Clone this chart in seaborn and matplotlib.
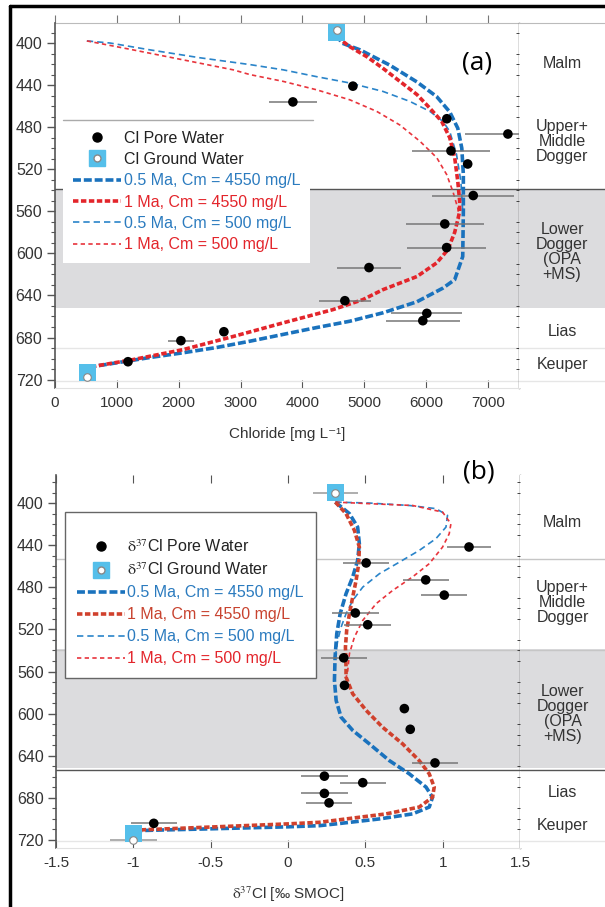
import matplotlib
matplotlib.use("Agg")
import matplotlib.pyplot as plt
from matplotlib.lines import Line2D
from matplotlib.ticker import MultipleLocator
import seaborn as sns

sns.set_style("ticks")
plt.rcParams['font.family'] = ['Liberation Sans', 'DejaVu Sans']
plt.rcParams['mathtext.fontset'] = 'stix'

# ---------------- data: panel (a) chloride ----------------
a_pw_cl = [3845, 4815, 6333, 7320, 6400, 6670, 6760, 6300, 6330, 5075, 4685, 6010, 5945, 2730, 2035, 1180]
a_pw_depth = [456, 441, 472, 486.5, 502.5, 515, 545, 572, 594.5, 613.5, 645, 657, 664, 674.5, 683, 703]
a_pw_err = [390, 0, 0, 700, 630, 0, 660, 630, 640, 515, 420, 575, 600, 0, 210, 0]
a_gw_cl = [4550, 520]
a_gw_depth = [390, 713]
a_gw_circle_depth = [388, 718]

a_blue_thick_cl = [4550, 4635, 4930, 5410, 5850, 6170, 6380, 6510, 6575, 6600, 6600, 6590, 6460, 6270,
                   5850, 5300, 4765, 4230, 3690, 3150, 2610, 2070, 1535, 1000, 515]
a_blue_thick_d = [392, 400, 406.5, 421, 437, 451, 465.5, 481, 500, 525, 560, 603, 625, 633,
                  646, 656.5, 664.5, 670.5, 677, 683.5, 689.5, 694.5, 699, 704, 708.5]
a_red_thick_cl = [4555, 4765, 5040, 5300, 5575, 5850, 6060, 6250, 6380, 6460, 6510, 6540, 6540, 6510,
                  6460, 6350, 6170, 5850, 5300, 4975, 4490, 3690, 2880, 2070, 1260, 515]
a_red_thick_d = [394, 403.5, 413, 424, 436.5, 449, 462, 474.5, 490, 509, 531.5, 550, 560, 568,
                 580, 596.5, 609, 622, 634.5, 644, 653.5, 666, 679, 691.5, 701, 708.5]
a_blue_thin_cl = [515, 890, 1535, 2340, 3150, 3690, 4230, 4765, 5300, 5735, 6060, 6270, 6380, 6490, 6560, 6590]
a_blue_thin_d = [398, 400, 406.5, 414, 420.5, 425.5, 432, 438, 446, 455.5, 465, 474.5, 484, 506, 531.5, 560]
a_red_thin_cl = [515, 1260, 2070, 2880, 3150, 3690, 4230, 4765, 5200, 5575, 5900, 6170, 6330, 6430, 6510, 6540]
a_red_thin_d = [398, 406.5, 416, 425.5, 430, 436.5, 444.5, 454, 465, 478, 493.5, 509, 525, 541, 557, 570]

# ---------------- data: panel (b) delta37Cl ----------------
b_pw_v = [1.17, 0.505, 0.89, 1.01, 0.435, 0.515, 0.36, 0.365, 0.752, 0.79, 0.95, 0.235, 0.483, 0.235, 0.265, -0.868]
b_pw_depth = [441.5, 456.7, 472.8, 487.3, 504.3, 515.5, 547, 573.2, 595.3, 615, 647, 659.6, 665.8, 676, 685, 704.5]
b_pw_err = [0.14, 0.15, 0.15, 0.15, 0.15, 0.15, 0.15, 0, 0, 0, 0.15, 0.15, 0.15, 0.15, 0.15, 0.15]
b_gw_v = [0.306, -1.0]
b_gw_depth = [390, 714]
b_gw_circle_depth = [390, 720]
b_gw_err = [0.145, 0.15]

b_blue_thick_v = [0.306, 0.397, 0.45, 0.461, 0.45, 0.418, 0.375, 0.337, 0.315, 0.304, 0.3, 0.311, 0.343, 0.418,
                  0.526, 0.655, 0.784, 0.892, 0.934, 0.913, 0.805, 0.59, 0.311, 0.203, 0.0, -0.5, -1.0]
b_blue_thick_d = [398.8, 409.8, 422.6, 438.4, 454.3, 470, 486, 505, 524, 546.4, 568.6, 587.6, 603.5, 616,
                  628.9, 644.8, 657.4, 670, 679.7, 689, 695.5, 700.3, 705, 706.7, 707.8, 709.7, 711.5]
b_red_thick_v = [0.306, 0.375, 0.429, 0.461, 0.457, 0.44, 0.418, 0.397, 0.379, 0.371, 0.375, 0.375, 0.418, 0.505,
                 0.611, 0.741, 0.848, 0.913, 0.945, 0.934, 0.848, 0.634, 0.375, 0.203, 0.0, -0.5, -1.0]
b_red_thick_d = [398.8, 409.8, 425.7, 441.6, 457.4, 473.3, 489.2, 505, 521, 536.8, 556, 565.4, 581.2, 597,
                 613, 628.9, 644.8, 657.4, 670, 679.7, 689, 695.5, 700.3, 703.5, 705, 708, 711]
b_blue_thin_v = [0.306, 0.526, 0.784, 0.956, 1.031, 1.021, 0.956, 0.848, 0.72, 0.59, 0.483, 0.418, 0.375, 0.343, 0.321, 0.306]
b_blue_thin_d = [398.8, 399.7, 402, 405, 411.4, 422.6, 433.6, 444.8, 455.9, 467, 479.7, 492.4, 505, 517.8, 530.5, 546]
b_red_thin_v = [0.306, 0.526, 0.805, 0.999, 1.053, 1.042, 0.999, 0.913, 0.805, 0.676, 0.569, 0.483, 0.429, 0.397, 0.386, 0.375]
b_red_thin_d = [398.8, 400.3, 402, 408.3, 419.4, 428.9, 441.6, 457.4, 470, 482.9, 495.5, 511.4, 527.3, 543, 559, 566]

# formations
formations = ["Malm", "Upper+\nMiddle\nDogger", "Lower\nDogger\n(OPA\n+MS)", "Lias", "Keuper"]
a_form_depth = [419, 494, 599, 674.5, 706]
b_form_depth = [418, 494, 600, 675, 706.5]
a_xticks = [0, 1000, 2000, 3000, 4000, 5000, 6000, 7000]
b_xticks = [-1.5, -1, -0.5, 0, 0.5, 1, 1.5]
b_xticklabels = ["-1.5", "-1", "-0.5", "0", "0.5", "1", "1.5"]
yticks = [400, 440, 480, 520, 560, 600, 640, 680, 720]

BLUE = '#1a72bd'
BLUE_T = '#2a84c9'
RED = '#e3252b'
RED_T = '#e8343c'
RED_B = '#d0412d'
SKY = '#55bfea'
BAND = '#dcdcde'

thick_blue_ls = (0, (2.2, 0.8))
thick_red_ls = (0, (1.5, 0.7))
thin_blue_ls = (0, (3.8, 2.4))
thin_red_ls = (0, (2.6, 2.0))

fig = plt.figure(figsize=(6.05, 9.07), dpi=100)
ax_a = fig.add_axes([0.0909, 0.5722, 0.767, 0.4024])
axr_a = fig.add_axes([0.8579, 0.5722, 0.1421, 0.4024], sharey=ax_a)
ax_b = fig.add_axes([0.0926, 0.0650, 0.767, 0.4113])
axr_b = fig.add_axes([0.8595, 0.0650, 0.1405, 0.4113], sharey=ax_b)


def style_axis(ax, ylim):
    ax.set_ylim(*ylim)
    ax.set_yticks(yticks)
    ax.yaxis.set_minor_locator(MultipleLocator(10))
    ax.tick_params(axis='y', which='both', left=True, right=True, labelright=False,
                   direction='out', colors='#555', labelcolor='#333', labelsize=11.5, pad=3)
    ax.tick_params(axis='y', which='major', length=6, width=1)
    ax.tick_params(axis='y', which='minor', length=3, width=0.8)
    ax.tick_params(axis='x', which='major', bottom=True, direction='in', length=6,
                   colors='#555', labelcolor='#333', labelsize=11, pad=6)
    ax.spines['left'].set_color('#555')
    ax.spines['left'].set_linewidth(1.2)
    ax.spines['right'].set_color('#555')
    ax.spines['right'].set_linewidth(1.0)
    ax.spines['bottom'].set_color('#e2e2e2')
    ax.spines['top'].set_visible(False)
    ax.set_ylabel("")
    ax.set_facecolor('white')


def side_panel(axr, depths):
    axr.axhspan(539, 652, color=BAND, lw=0, zorder=0)
    for s in axr.spines.values():
        s.set_visible(False)
    axr.tick_params(left=False, bottom=False, labelleft=False, labelbottom=False)
    for name, d in zip(formations, depths):
        axr.text(0.5, d, name, transform=axr.get_yaxis_transform(), ha='center', va='center',
                 fontsize=11.5, color='#333', linespacing=1.0)


def draw_curve(ax, x, y, color, lw, ls):
    sns.lineplot(x=x, y=y, sort=False, estimator=None, ax=ax, color=color, lw=lw,
                 linestyle=ls, zorder=2, legend=False)


def model_handles(red_thick):
    return [
        Line2D([], [], ls='none', marker='o', color='black', ms=6.5),
        (Line2D([], [], ls='none', marker='s', color=SKY, ms=11),
         Line2D([], [], ls='none', marker='o', mfc='white', mec='#888', ms=5)),
        Line2D([], [], color=BLUE, lw=2.6, linestyle=thick_blue_ls),
        Line2D([], [], color=red_thick, lw=2.6, linestyle=thick_red_ls),
        Line2D([], [], color=BLUE_T, lw=1.2, linestyle=thin_blue_ls),
        Line2D([], [], color=RED_T, lw=1.2, linestyle=thin_red_ls),
    ]


# ================= panel (a) =================
ax = ax_a
ax.axhspan(539, 652, color=BAND, lw=0, zorder=0)
for axx in (ax_a, axr_a):
    axx.axhline(539, color='#555', lw=1, zorder=1)
    axx.axhline(690, color='#e6e6e6', lw=1, zorder=1)
    axx.axhline(721, color='#e6e6e6', lw=1, zorder=1)

draw_curve(ax, a_blue_thin_cl, a_blue_thin_d, BLUE_T, 1.2, thin_blue_ls)
draw_curve(ax, a_red_thin_cl, a_red_thin_d, RED_T, 1.2, thin_red_ls)
draw_curve(ax, a_blue_thick_cl, a_blue_thick_d, BLUE, 2.6, thick_blue_ls)
draw_curve(ax, a_red_thick_cl, a_red_thick_d, RED, 2.6, thick_red_ls)

ax.errorbar(a_pw_cl, a_pw_depth, xerr=a_pw_err, fmt='none', ecolor='#777', elinewidth=1.1, capsize=0, zorder=3)
sns.scatterplot(x=a_pw_cl, y=a_pw_depth, color='black', s=48, edgecolor='none', zorder=4, ax=ax)
sns.scatterplot(x=a_gw_cl, y=a_gw_depth, marker='s', color=SKY, s=150, edgecolor='none', zorder=4, ax=ax)
sns.scatterplot(x=a_gw_cl, y=a_gw_circle_depth, marker='o', color='white', s=30, edgecolor='#888',
                linewidth=0.8, zorder=5, ax=ax)

style_axis(ax, (728, 381))
ax.set_xlim(0, 7500)
ax.set_xticks(a_xticks)
ax.set_xticklabels([str(t) for t in a_xticks])
ax.set_xlabel("Chloride [mg L⁻¹]", fontsize=11, color='#333', labelpad=12)
top_a = ax.secondary_xaxis('top')
top_a.set_xticks(a_xticks)
top_a.tick_params(direction='out', length=6, colors='#777', labeltop=False)
top_a.spines['top'].set_color('#bbbbbb')
side_panel(axr_a, a_form_depth)
axr_a.spines['top'].set_visible(True)
axr_a.spines['top'].set_color('#bbbbbb')
ax.text(0.909, 0.89, "(a)", transform=ax.transAxes, fontsize=19, family=['Open Sans', 'DejaVu Sans'],
        ha='center', va='center', color='black')

labels_a = ["Cl Pore Water", "Cl Ground Water", "0.5 Ma, Cm = 4550 mg/L", "1 Ma, Cm = 4550 mg/L",
            "0.5 Ma, Cm = 500 mg/L", "1 Ma, Cm = 500 mg/L"]
text_colors_a = ['#222', '#222', '#2b7bbf', RED, '#2b7bbf', RED]
leg = ax.legend(model_handles(RED), labels_a, loc='upper left', bbox_to_anchor=(0.017, 0.734), frameon=True,
                fancybox=False, fontsize=11.5, handlelength=3.0, handletextpad=0.15, labelspacing=0.4,
                borderpad=0.65, borderaxespad=0)
leg.get_frame().set_edgecolor('none')
leg.get_frame().set_facecolor('white')
leg.get_frame().set_alpha(1)
leg.set_zorder(10)
for t, c in zip(leg.get_texts(), text_colors_a):
    t.set_color(c)
ax.plot([0.017, 0.557], [0.734, 0.734], transform=ax.transAxes, color='#aaa', lw=1, zorder=11)

# ================= panel (b) =================
ax = ax_b
ax.axhspan(539, 652, color=BAND, lw=0, zorder=0)
for axx in (ax_b, axr_b):
    axx.axhline(452.7, color='#c6c6c6', lw=1, zorder=1)
    axx.axhline(540, color='#c6c6c6', lw=1, zorder=1)
    axx.axhline(653.6, color='#555', lw=1, zorder=1)
    axx.axhline(721, color='#e6e6e6', lw=1, zorder=1)

draw_curve(ax, b_blue_thin_v, b_blue_thin_d, BLUE_T, 1.2, thin_blue_ls)
draw_curve(ax, b_red_thin_v, b_red_thin_d, RED_T, 1.2, thin_red_ls)
draw_curve(ax, b_blue_thick_v, b_blue_thick_d, BLUE, 2.6, thick_blue_ls)
draw_curve(ax, b_red_thick_v, b_red_thick_d, RED_B, 2.6, thick_red_ls)

ax.errorbar(b_pw_v, b_pw_depth, xerr=b_pw_err, fmt='none', ecolor='#777', elinewidth=1.1, capsize=0, zorder=3)
ax.errorbar(b_gw_v, b_gw_circle_depth, xerr=b_gw_err, fmt='none', ecolor='#999', elinewidth=1.1, capsize=0, zorder=3)
sns.scatterplot(x=b_pw_v, y=b_pw_depth, color='black', s=48, edgecolor='none', zorder=4, ax=ax)
sns.scatterplot(x=b_gw_v, y=b_gw_depth, marker='s', color=SKY, s=150, edgecolor='none', zorder=4, ax=ax)
sns.scatterplot(x=b_gw_v, y=b_gw_circle_depth, marker='o', color='white', s=30, edgecolor='#888',
                linewidth=0.8, zorder=5, ax=ax)

style_axis(ax, (728, 373))
ax.set_xlim(-1.5, 1.5)
ax.set_xticks(b_xticks)
ax.set_xticklabels(b_xticklabels)
ax.tick_params(axis='x', which='major', top=True, labeltop=False)
ax.set_xlabel(r"$\mathrm{\delta}^{37}$Cl [‰ SMOC]", fontsize=11, color='#333', labelpad=10)
side_panel(axr_b, b_form_depth)
ax.text(0.912, 1.008, "(b)", transform=ax.transAxes, fontsize=19, family=['Open Sans', 'DejaVu Sans'],
        ha='center', va='center', color='black')

labels_b = [r"$\mathrm{\delta}^{37}$Cl Pore Water", r"$\mathrm{\delta}^{37}$Cl Ground Water",
            "0.5 Ma, Cm = 4550 mg/L", "1 Ma, Cm = 4550 mg/L", "0.5 Ma, Cm = 500 mg/L", "1 Ma, Cm = 500 mg/L"]
text_colors_b = ['#222', '#222', '#2b7bbf', '#c8432f', '#2b7bbf', RED]
leg = ax.legend(model_handles(RED_B), labels_b, loc='upper left', bbox_to_anchor=(0.0194, 0.9008), frameon=True,
                fancybox=False, fontsize=11.5, handlelength=3.0, handletextpad=0.15, labelspacing=0.44,
                borderpad=0.75, borderaxespad=0, title=" ", title_fontsize=6)
leg.get_frame().set_edgecolor('#666')
leg.get_frame().set_linewidth(1)
leg.get_frame().set_facecolor('white')
leg.get_frame().set_alpha(1)
leg.set_zorder(10)
for t, c in zip(leg.get_texts(), text_colors_b):
    t.set_color(c)

# outer black frame (left and top)
fig.add_artist(Line2D([0.0165, 0.0165], [0, 0.9934], transform=fig.transFigure, color='black', lw=2.5))
fig.add_artist(Line2D([0.0165, 1], [0.9934, 0.9934], transform=fig.transFigure, color='black', lw=2.5))

fig.savefig("out.png", dpi=100)
